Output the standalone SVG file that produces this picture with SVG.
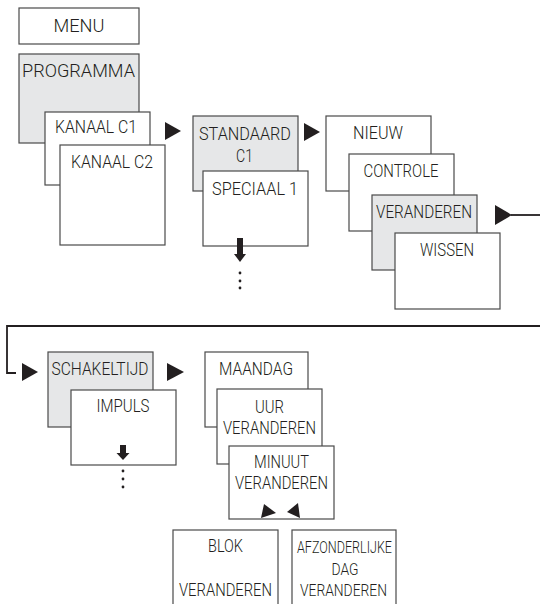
<svg xmlns="http://www.w3.org/2000/svg" width="540" height="604" viewBox="0 0 540 604">
<style>
.b{fill:#fff;stroke:#4a4a4a;stroke-width:1.2}
.g{fill:#e6e7e8;stroke:#4a4a4a;stroke-width:1.2}
text{font-family:Roboto,"Liberation Sans",Arial,sans-serif;font-size:18.5px;font-weight:300;fill:#231f20;text-anchor:middle}
.s{font-size:17px}
.a{fill:#231f20}
.c{fill:none;stroke:#231f20;stroke-width:1.8}
</style>
<rect width="540" height="604" fill="#fff"/>
<g id="menu"><rect class="b" x="19" y="8" width="120" height="36"/><text x="79" y="32" textLength="51" lengthAdjust="spacingAndGlyphs">MENU</text></g>
<g id="programma"><rect class="g" x="19" y="54" width="120" height="89"/><text x="78.5" y="77" textLength="113" lengthAdjust="spacingAndGlyphs">PROGRAMMA</text></g>
<g id="kanaal-c1"><rect class="b" x="45" y="112" width="105" height="73"/><text x="96" y="133" textLength="82" lengthAdjust="spacingAndGlyphs">KANAAL C1</text></g>
<g id="kanaal-c2"><rect class="b" x="60" y="145" width="105" height="100"/><text x="112" y="168" textLength="82" lengthAdjust="spacingAndGlyphs">KANAAL C2</text></g>
<g id="standaard"><rect class="g" x="193" y="116" width="105" height="75"/><text x="245" y="140" textLength="92" lengthAdjust="spacingAndGlyphs">STANDAARD</text><text x="244.5" y="162" textLength="17" lengthAdjust="spacingAndGlyphs">C1</text></g>
<g id="speciaal"><rect class="b" x="203" y="171" width="105" height="75"/><text x="255" y="195" textLength="86" lengthAdjust="spacingAndGlyphs">SPECIAAL 1</text></g>
<g id="nieuw"><rect class="b" x="326" y="116" width="105" height="75"/><text x="378" y="139" textLength="50" lengthAdjust="spacingAndGlyphs">NIEUW</text></g>
<g id="controle"><rect class="b" x="349" y="154" width="105" height="77"/><text x="401" y="177" textLength="75" lengthAdjust="spacingAndGlyphs">CONTROLE</text></g>
<g id="veranderen"><rect class="g" x="372" y="195" width="105" height="75"/><text x="424" y="218" textLength="96" lengthAdjust="spacingAndGlyphs">VERANDEREN</text></g>
<g id="wissen"><rect class="b" x="395" y="233" width="105" height="76"/><text x="447" y="256" textLength="54" lengthAdjust="spacingAndGlyphs">WISSEN</text></g>
<g id="schakeltijd"><rect class="g" x="48" y="352" width="105" height="75"/><text x="100" y="375" textLength="97" lengthAdjust="spacingAndGlyphs">SCHAKELTIJD</text></g>
<g id="impuls"><rect class="b" x="71" y="390" width="105" height="75"/><text x="123" y="412" textLength="53" lengthAdjust="spacingAndGlyphs">IMPULS</text></g>
<g id="maandag"><rect class="b" x="205" y="352" width="103" height="75"/><text x="256" y="375" textLength="74" lengthAdjust="spacingAndGlyphs">MAANDAG</text></g>
<g id="uur"><rect class="b" x="217" y="389" width="105" height="75"/><text x="269.5" y="413" textLength="29" lengthAdjust="spacingAndGlyphs">UUR</text><text x="269.5" y="434" textLength="93" lengthAdjust="spacingAndGlyphs">VERANDEREN</text></g>
<g id="minuut"><rect class="b" x="229" y="446" width="105" height="73"/><text x="281.5" y="468" textLength="55" lengthAdjust="spacingAndGlyphs">MINUUT</text><text x="281.5" y="489" textLength="93" lengthAdjust="spacingAndGlyphs">VERANDEREN</text><polygon class="a" points="264,504 261,518 276,513"/><polygon class="a" points="298,503 287,512 300,518"/></g>
<g id="blok"><rect class="b" x="173" y="530" width="105" height="80"/><text x="225.5" y="552" textLength="35" lengthAdjust="spacingAndGlyphs">BLOK</text><text x="225.5" y="596" textLength="93" lengthAdjust="spacingAndGlyphs">VERANDEREN</text></g>
<g id="afzonderlijke"><rect class="b" x="292" y="530" width="104" height="80"/><text class="s" x="344.5" y="553" textLength="95" lengthAdjust="spacingAndGlyphs">AFZONDERLIJKE</text><text class="s" x="345" y="575" textLength="27" lengthAdjust="spacingAndGlyphs">DAG</text><text class="s" x="343.5" y="596" textLength="87" lengthAdjust="spacingAndGlyphs">VERANDEREN</text></g>
<g id="connectors">
<polygon class="a" points="165,122 165,140 181,131"/>
<polygon class="a" points="304,123 304,141 320,132"/>
<polygon class="a" points="495,205 495,225 512,215"/>
<line class="c" x1="511" y1="215" x2="540" y2="215"/>
<polyline class="c" points="540,326 7,326 7,373 16,373"/>
<polygon class="a" points="22,363 22,381 38,372"/>
<polygon class="a" points="167,363 167,381 184,372"/>
<rect class="a" x="237" y="238" width="6" height="17"/><polygon class="a" points="234,254 246,254 240,262"/>
<circle class="a" cx="240" cy="273" r="1.4"/><circle class="a" cx="240" cy="281" r="1.4"/><circle class="a" cx="240" cy="288" r="1.4"/>
<rect class="a" x="120" y="445" width="6" height="9"/><polygon class="a" points="116.5,453 129.5,453 123,460"/>
<circle class="a" cx="123" cy="471" r="1.4"/><circle class="a" cx="123" cy="479" r="1.4"/><circle class="a" cx="123" cy="487" r="1.4"/>
</g>
</svg>
